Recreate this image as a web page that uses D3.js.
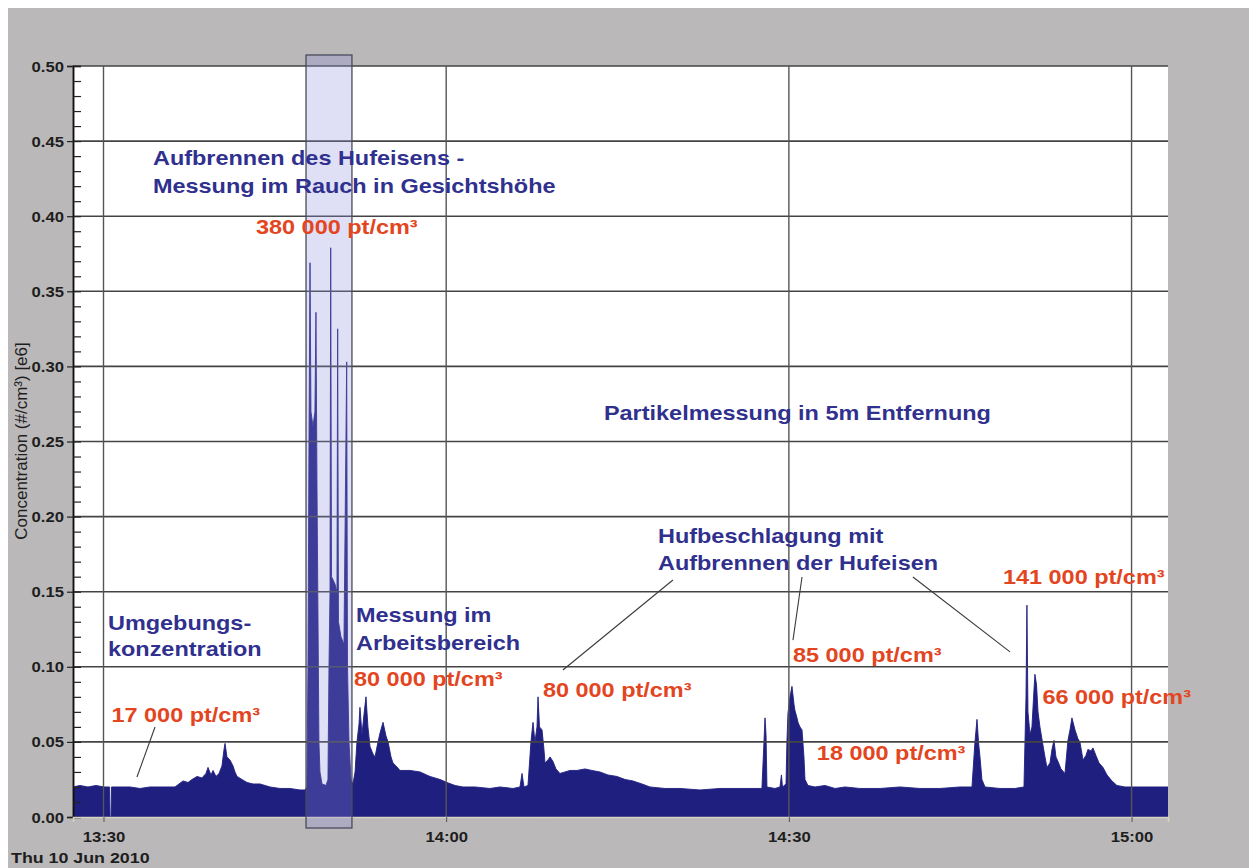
<!DOCTYPE html>
<html>
<head>
<meta charset="utf-8">
<script src="https://cdn.jsdelivr.net/npm/d3@7"></script>
<style>
  html, body { margin: 0; padding: 0; background: #ffffff; }
  svg { display: block; }
  text { font-family: "Liberation Sans", Arial, sans-serif; }
</style>
</head>
<body>
<svg id="chart" width="1249" height="868"></svg>
<script>
// Particle concentration, Thu 10 Jun 2010 (minutes after 13:00, values in #/cm³ × 1e6)
const timeMin = [
  27.33, 27.94, 28.64, 29.34, 30.04, 30.53, 30.57, 30.66, 30.70, 31.44,
  32.32, 33.20, 34.07, 34.95, 35.82, 36.26, 36.96, 37.40, 37.75, 38.19,
  38.62, 38.97, 39.15, 39.41, 39.59, 39.85, 40.11, 40.37, 40.55, 40.64,
  40.81, 41.07, 41.34, 41.51, 41.69, 42.12, 42.56, 43.09, 43.70, 44.58,
  45.45, 46.33, 47.20, 47.64, 47.81, 47.90, 47.99, 48.08, 48.16, 48.34,
  48.51, 48.60, 48.69, 48.78, 48.86, 48.95, 49.13, 49.48, 49.65, 49.74,
  49.83, 49.89, 49.96, 50.09, 50.27, 50.44, 50.50, 50.57, 50.79, 51.05,
  51.29, 51.36, 51.49, 51.67, 51.84, 52.02, 52.19, 52.37, 52.45, 52.63,
  52.80, 52.98, 53.15, 53.33, 53.59, 53.77, 54.03, 54.21, 54.47, 54.73,
  54.91, 55.17, 55.34, 55.61, 55.96, 56.83, 57.71, 58.58, 59.46, 60.07,
  60.77, 61.47, 62.52, 63.83, 64.71, 65.85, 66.46, 66.64, 66.81, 67.16,
  67.42, 67.60, 67.77, 67.95, 68.04, 68.17, 68.39, 68.56, 68.65, 68.91,
  69.09, 69.35, 69.61, 69.96, 70.40, 70.84, 71.45, 72.15, 72.76, 73.46,
  74.16, 74.95, 75.65, 76.35, 77.14, 77.84, 79.15, 80.47, 82.22, 83.97,
  85.72, 87.03, 87.64, 87.82, 87.91, 88.00, 88.08, 88.78, 89.22, 89.35,
  89.44, 89.75, 89.83, 89.92, 90.10, 90.27, 90.45, 90.53, 90.71, 90.80,
  90.97, 91.15, 91.32, 91.41, 91.67, 92.29, 93.16, 94.04, 94.91, 96.22,
  97.98, 99.73, 101.48, 103.23, 104.98, 106.03, 106.29, 106.47, 106.60, 106.73,
  106.90, 107.17, 108.48, 109.79, 110.58, 110.76, 110.84, 110.93, 111.11, 111.28,
  111.46, 111.54, 111.68, 111.81, 111.98, 112.24, 112.42, 112.59, 112.86, 113.03,
  113.21, 113.38, 113.56, 113.82, 114.17, 114.43, 114.61, 114.78, 115.05, 115.31,
  115.48, 115.75, 116.01, 116.18, 116.45, 116.62, 116.88, 117.15, 117.50, 117.85,
  118.28, 118.72, 119.42, 120.30, 121.17, 122.05, 123.19
];
const conc = [
  0.020, 0.021, 0.020, 0.021, 0.020, 0.020, 0.000, 0.000, 0.020, 0.020,
  0.020, 0.019, 0.020, 0.020, 0.020, 0.020, 0.024, 0.023, 0.025, 0.027,
  0.026, 0.029, 0.033, 0.028, 0.031, 0.027, 0.029, 0.034, 0.045, 0.049,
  0.040, 0.038, 0.034, 0.030, 0.027, 0.025, 0.023, 0.022, 0.022, 0.020,
  0.019, 0.019, 0.018, 0.018, 0.020, 0.100, 0.250, 0.369, 0.270, 0.260,
  0.270, 0.336, 0.220, 0.130, 0.050, 0.030, 0.022, 0.021, 0.025, 0.100,
  0.150, 0.379, 0.160, 0.158, 0.155, 0.150, 0.325, 0.130, 0.120, 0.115,
  0.303, 0.100, 0.050, 0.025, 0.022, 0.030, 0.050, 0.062, 0.073, 0.055,
  0.068, 0.080, 0.060, 0.047, 0.042, 0.040, 0.050, 0.056, 0.063, 0.054,
  0.050, 0.040, 0.036, 0.034, 0.031, 0.031, 0.030, 0.027, 0.025, 0.023,
  0.021, 0.020, 0.020, 0.019, 0.020, 0.019, 0.020, 0.029, 0.020, 0.021,
  0.050, 0.063, 0.050, 0.060, 0.080, 0.060, 0.058, 0.045, 0.036, 0.038,
  0.040, 0.037, 0.032, 0.029, 0.030, 0.031, 0.031, 0.032, 0.031, 0.030,
  0.028, 0.027, 0.025, 0.024, 0.022, 0.020, 0.019, 0.019, 0.018, 0.019,
  0.019, 0.019, 0.019, 0.050, 0.066, 0.055, 0.020, 0.019, 0.020, 0.028,
  0.020, 0.022, 0.050, 0.069, 0.080, 0.087, 0.075, 0.071, 0.066, 0.063,
  0.060, 0.058, 0.040, 0.025, 0.021, 0.020, 0.021, 0.019, 0.020, 0.019,
  0.019, 0.020, 0.019, 0.019, 0.020, 0.020, 0.050, 0.065, 0.050, 0.040,
  0.025, 0.020, 0.019, 0.019, 0.020, 0.080, 0.141, 0.070, 0.055, 0.060,
  0.085, 0.095, 0.088, 0.070, 0.060, 0.048, 0.040, 0.033, 0.036, 0.045,
  0.051, 0.040, 0.037, 0.032, 0.029, 0.051, 0.058, 0.066, 0.058, 0.052,
  0.050, 0.038, 0.041, 0.045, 0.044, 0.046, 0.041, 0.036, 0.033, 0.028,
  0.024, 0.021, 0.020, 0.020, 0.020, 0.020, 0.020
];

// Visible time window and the highlighted "burning" interval (minutes after 13:00)
const timeWindow = [27.33, 123.19];
const highlightWindow = [47.73, 51.75];

// Axis ticks
const yTickValues = [0, 0.05, 0.10, 0.15, 0.20, 0.25, 0.30, 0.35, 0.40, 0.45, 0.50];
const yTickLabels = ["0.00", "0.05", "0.10", "0.15", "0.20", "0.25", "0.30", "0.35", "0.40", "0.45", "0.50"];
const xTickMinutes = [30, 60, 90, 120];
const xTickLabels = ["13:30", "14:00", "14:30", "15:00"];
const dateLabel = "Thu 10 Jun 2010";
const yAxisTitle = "Concentration (#/cm³) [e6]";

// Annotations: text, anchor minute, anchor value, kind
const noteText = [
  "Aufbrennen des Hufeisens -",
  "Messung im Rauch in Gesichtshöhe",
  "380 000 pt/cm³",
  "Partikelmessung in 5m Entfernung",
  "Hufbeschlagung mit",
  "Aufbrennen der Hufeisen",
  "141 000 pt/cm³",
  "Umgebungs-",
  "konzentration",
  "Messung im",
  "Arbeitsbereich",
  "80 000 pt/cm³",
  "80 000 pt/cm³",
  "85 000 pt/cm³",
  "66 000 pt/cm³",
  "18 000 pt/cm³",
  "17 000 pt/cm³"
];
const noteMinute = [34.33, 34.33, 43.35, 73.81, 78.54, 78.54, 108.74, 30.39, 30.39, 52.10, 52.10, 51.93, 68.47, 90.36, 112.20, 92.45, 30.70];
const noteValue  = [0.434, 0.4155, 0.388, 0.2643, 0.1824, 0.1645, 0.1551, 0.1245, 0.1072, 0.1298, 0.1112, 0.0872, 0.0799, 0.1031, 0.0752, 0.0380, 0.0633];
const noteKind   = ["label", "label", "value", "label", "label", "label", "value", "label", "label", "label", "label", "value", "value", "value", "value", "value", "value"];

// Leader lines: minute1, value1, minute2, value2
const leaders = [
  [32.93, 0.0266, 34.51, 0.0599],
  [70.22, 0.0979, 79.85, 0.1578],
  [90.36, 0.1178, 91.15, 0.1598],
  [100.86, 0.1598, 109.36, 0.1099]
];

const W = 1249, H = 868;
const plot = { left: 73, right: 1168, top: 66, bottom: 817 };
const colors = {
  page: "#bab8b9",
  fill: "#1f1f80",
  grid: "#444444",
  blue: "#30308e",
  red: "#e3461f",
  ink: "#1e1e1e"
};
const stretch = 1.15;

const base = new Date(2010, 5, 10, 13, 0, 0);
const toDate = m => new Date(base.getTime() + m * 60000);

const x = d3.scaleTime()
  .domain(timeWindow.map(toDate))
  .range([plot.left, plot.right]);
const y = d3.scaleLinear()
  .domain([0, 0.5])
  .range([plot.bottom, plot.top]);

const series = timeMin.map((m, i) => ({ date: toDate(m), v: conc[i] }));

const svg = d3.select("#chart");

// Page background with the thin white margin at top and left
svg.append("rect").attr("x", 0).attr("y", 0).attr("width", W).attr("height", H).attr("fill", "#ffffff");
svg.append("rect").attr("x", 8).attr("y", 8).attr("width", W - 8).attr("height", H - 8).attr("fill", colors.page);

// Plot area
svg.append("rect")
  .attr("x", plot.left).attr("y", plot.top)
  .attr("width", plot.right - plot.left).attr("height", plot.bottom - plot.top)
  .attr("fill", "#ffffff");

svg.append("defs").append("clipPath").attr("id", "plotClip")
  .append("rect")
  .attr("x", plot.left).attr("y", plot.top)
  .attr("width", plot.right - plot.left).attr("height", plot.bottom - plot.top);

// Concentration area
const area = d3.area()
  .x(d => x(d.date))
  .y0(y(0))
  .y1(d => y(d.v))
  .curve(d3.curveLinear);

svg.append("path")
  .datum(series)
  .attr("clip-path", "url(#plotClip)")
  .attr("d", area)
  .attr("fill", colors.fill)
  .attr("stroke", colors.fill)
  .attr("stroke-width", 0.9)
  .attr("stroke-linejoin", "miter");

// Grid lines
const grid = svg.append("g");
grid.selectAll("line.h")
  .data(yTickValues.filter(v => v > 0))
  .join("line")
  .attr("x1", plot.left).attr("x2", plot.right)
  .attr("y1", d => y(d)).attr("y2", d => y(d))
  .attr("stroke", colors.grid)
  .attr("stroke-width", 1.6);
grid.selectAll("line.v")
  .data(xTickMinutes)
  .join("line")
  .attr("x1", d => x(toDate(d))).attr("x2", d => x(toDate(d)))
  .attr("y1", plot.top).attr("y2", plot.bottom)
  .attr("stroke", "#555555")
  .attr("stroke-width", 1.4);

// Y axis: outer major ticks, inner minor ticks every 0.01
const yAxisMajor = d3.axisLeft(y)
  .tickValues(yTickValues)
  .tickSize(6)
  .tickFormat("");
const yAxisMinor = d3.axisRight(y)
  .tickValues(d3.range(0, 51).map(k => k / 100))
  .tickSize(8)
  .tickFormat("");
const gy = svg.append("g").attr("transform", `translate(${plot.left},0)`).call(yAxisMajor);
const gyMinor = svg.append("g").attr("transform", `translate(${plot.left},0)`).call(yAxisMinor);
[gy, gyMinor].forEach(g => {
  g.select(".domain").attr("stroke", "#111").attr("stroke-width", 1.5);
  g.selectAll(".tick line").attr("stroke", "#222").attr("stroke-width", 1.2);
});
gy.selectAll(".tick").each(function (d) {
  const i = yTickValues.indexOf(d);
  d3.select(this).append("text")
    .attr("transform", `translate(-9,5) scale(${stretch},1)`)
    .attr("text-anchor", "end")
    .attr("fill", colors.ink)
    .attr("font-size", 14.5)
    .attr("font-weight", "bold")
    .text(yTickLabels[i]);
});

// X axis ticks and labels
const xAxis = d3.axisBottom(x)
  .tickValues(xTickMinutes.map(toDate))
  .tickSize(5)
  .tickFormat("");
const gx = svg.append("g").attr("transform", `translate(0,${plot.bottom})`).call(xAxis);
gx.select(".domain").attr("stroke", "#d8d4c0").attr("stroke-width", 1.5);
gx.selectAll(".tick line").attr("stroke", "#555");
gx.selectAll(".tick").each(function (d, i) {
  d3.select(this).append("text")
    .attr("transform", `translate(0,25) scale(${stretch},1)`)
    .attr("text-anchor", "middle")
    .attr("fill", colors.ink)
    .attr("font-size", 14.5)
    .attr("font-weight", "bold")
    .text(xTickLabels[i]);
});
svg.append("text")
  .attr("transform", `translate(11,863) scale(${stretch},1)`)
  .attr("fill", colors.ink)
  .attr("font-size", 15.5)
  .attr("font-weight", "bold")
  .text(dateLabel);

// Y axis title
svg.append("text")
  .attr("transform", `translate(27,441) rotate(-90)`)
  .attr("text-anchor", "middle")
  .attr("fill", colors.ink)
  .attr("font-size", 17)
  .text(yAxisTitle);

// Highlighted interval
svg.append("rect")
  .attr("x", x(toDate(highlightWindow[0])))
  .attr("y", plot.top - 11)
  .attr("width", x(toDate(highlightWindow[1])) - x(toDate(highlightWindow[0])))
  .attr("height", plot.bottom - plot.top + 22)
  .attr("fill", "#8c8cdc")
  .attr("fill-opacity", 0.28)
  .attr("stroke", "#4a4a5c")
  .attr("stroke-width", 1.3);

// Leader lines
svg.append("g").selectAll("line")
  .data(leaders)
  .join("line")
  .attr("x1", d => x(toDate(d[0]))).attr("y1", d => y(d[1]))
  .attr("x2", d => x(toDate(d[2]))).attr("y2", d => y(d[3]))
  .attr("stroke", "#3a3a3a")
  .attr("stroke-width", 1.1);

// Annotation texts
svg.append("g").selectAll("text")
  .data(noteText)
  .join("text")
  .attr("transform", (d, i) => `translate(${x(toDate(noteMinute[i]))},${y(noteValue[i])}) scale(${stretch},1)`)
  .attr("fill", (d, i) => noteKind[i] === "value" ? colors.red : colors.blue)
  .attr("font-size", 20.4)
  .attr("font-weight", "bold")
  .text(d => d);
</script>
</body>
</html>
